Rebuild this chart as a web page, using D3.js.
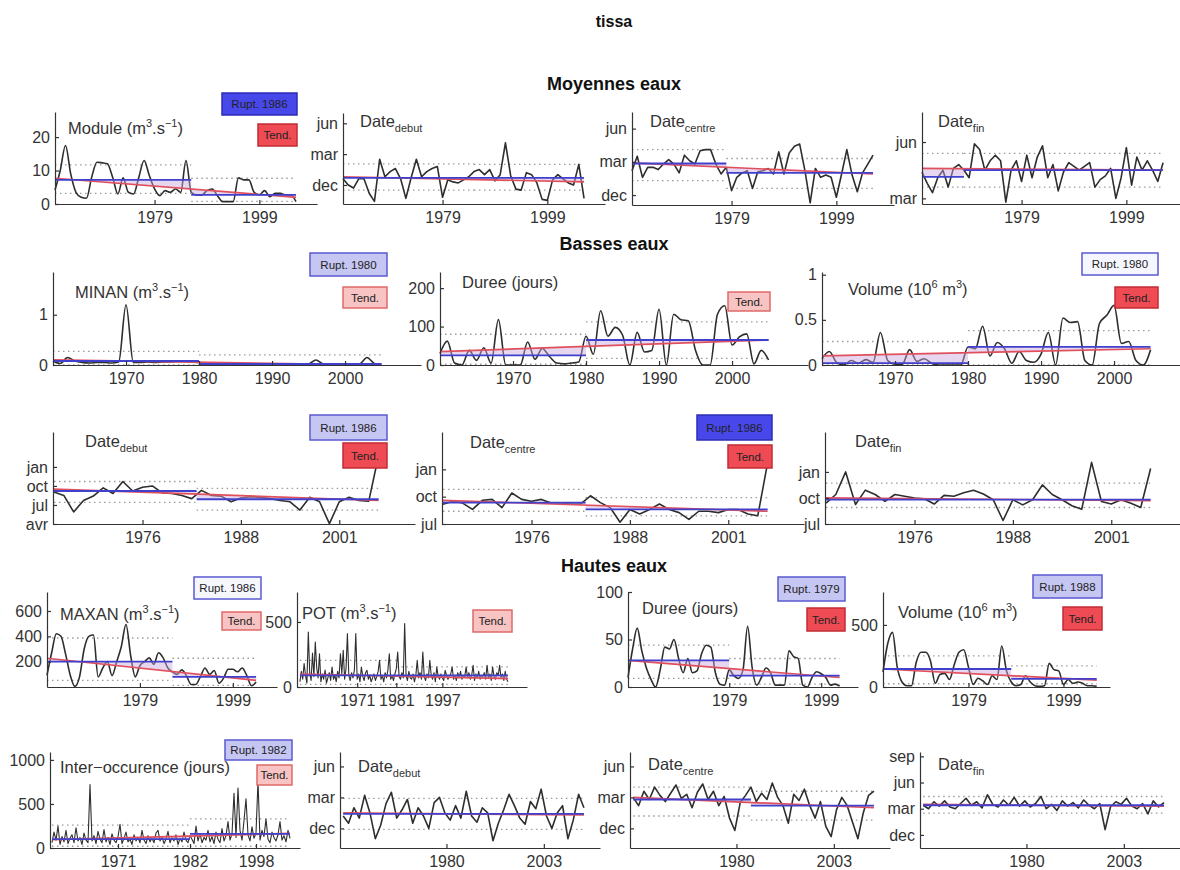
<!DOCTYPE html>
<html><head><meta charset="utf-8">
<script src="https://cdn.jsdelivr.net/npm/d3@7"></script>
<style>
body{margin:0;background:#fff;}
svg{font-family:"Liberation Sans",Arial,Helvetica,sans-serif;}
.tick text{font-size:16px;fill:#333;}
.ptitle{font-size:16.5px;fill:#333;}
.head{font-weight:bold;fill:#111;}
</style></head><body>
<svg id="fig" width="1180" height="870"></svg>
<script>
// ---- Moyennes eaux (annual series from 1960) ----
const moduleVals = [4.2,10,17.5,9,3.5,2,1.7,8,12.5,12.3,12,8,3,7.8,3.5,3,8,13,8.5,4.5,2.5,4,3.5,4.5,3.5,13,3.5,2.7,2.7,4,4.5,2.5,0.7,0.7,0.7,7.8,7.2,7.2,3.5,2.7,4,2.2,3.2,3.2,2.7,2.7,0.7];
const debutMVals = [12.6,12.0,11.7,12.6,12.6,11.2,10.4,14.5,12.8,13.3,13.6,12.6,10.7,12.7,14.5,12.8,13.3,13.6,13.8,10.8,12.5,12.3,12.2,12.5,12.8,13.3,13.5,13.0,13.5,12.4,13.0,16.1,12.9,11.6,11.5,13.2,13.0,12.2,10.6,10.5,12.5,13.0,12.6,12.2,12.0,14.0,10.7];
const centreMVals = [14.2,15.5,13.6,14.5,14.5,14.3,14.8,15.2,14.8,14.0,15.6,15.1,14.8,16.0,16.1,16.1,14.8,13.9,14.5,12.4,13.6,14.0,14.2,12.6,14.1,14.2,14.4,13.9,15.9,13.9,15.8,16.4,16.6,14.2,11.3,14.4,13.6,13.8,13.6,11.8,13.9,16.1,13.8,12.3,14.0,14.8,15.6];
const finMVals = [16.4,15.8,15.3,16.1,16.5,15.6,16.6,16.8,16.5,16.1,17.9,17.6,16.5,17.0,17.3,17.0,14.8,16.5,17.0,15.9,17.3,16.1,17.2,17.8,16.1,16.8,15.4,16.4,16.9,16.7,16.5,16.7,16.9,15.6,16.0,16.2,16.6,15.0,16.1,17.7,15.7,17.2,16.5,17.0,16.5,15.9,16.9];

// ---- Basses eaux ----
const minanVals = [0.08,0.03,0.15,0.08,0.05,0.04,0.05,0.05,0.04,0.06,1.2,0.05,0.05,0.06,0.05,0.06,0.06,0.07,0.07,0.06,0.05,0.02,0.01,0.02,0.01,0.01,0.02,0.01,0.01,0.01,0.02,0.01,0.01,0.01,0.02,0.02,0.1,0.02,0.01,0.01,0.02,0.01,0.02,0.15,0.03,0.0];
const dureeBVals = [30,62,5,0,38,12,45,5,118,0,0,0,60,15,43,22,5,3,5,8,75,28,141,75,98,78,0,85,34,38,145,0,132,118,115,38,0,0,132,154,52,73,81,3,38,13];
const volumeBVals = [0.07,0.15,0.03,0,0.05,0.02,0.06,0.03,0.36,0.05,0.01,0.01,0.17,0.04,0.07,0.02,0,0,0,0,0.2,0.18,0.43,0.1,0.25,0.18,0.02,0.15,0.05,0.03,0.12,0.36,0,0.52,0.47,0.48,0.05,0,0.46,0.55,0.66,0.24,0.26,0.05,0,0.17];
// low-flow dates, one value per event (month number, 13 = january of the next year)
const debutBVals = [9.05,8.5,5.9,7.7,8.4,9.7,8.8,10.7,9.2,9.8,10.0,8.9,8.8,8.5,8.0,9.3,8.5,8.4,7.5,8.1,8.3,8.2,8.0,7.7,7.5,6.2,8.2,7.5,4.05,7.5,8.2,7.7,7.6,14.8];
const centreBVals = [9.16,9.5,9.3,8.6,9.6,9.7,8.8,10.4,9.7,9.5,9.7,9.3,9.3,9.2,9.2,10.1,9.35,8.8,7.2,8.6,8.1,8.6,9.2,8.6,8.25,7.5,8.4,8.4,8.25,8.6,8.6,8.1,7.9,13.7];
const finBVals = [9.4,10.4,13.0,9.25,10.9,10.4,9.6,10.4,10.2,10.0,9.9,9.3,10.3,10.2,10.6,10.9,10.45,9.8,7.4,9.8,9.2,9.8,11.5,10.4,9.8,9.1,8.7,14.1,9.6,9.3,9.8,9.4,8.9,13.4];

// ---- Hautes eaux ----
const maxanVals = [93,270,420,400,260,93,5,80,300,400,410,80,150,200,90,200,320,493,250,80,170,200,230,180,270,230,150,120,100,135,90,20,20,80,150,100,130,30,70,140,140,120,150,90,10,40];
const potVals = [40,120,60,180,90,30,423,110,50,260,80,346,150,70,256,40,100,60,130,30,70,110,50,154,60,90,40,120,70,256,100,282,60,140,410,90,50,110,70,130,410,60,100,40,154,80,50,110,128,60,90,40,70,100,50,80,120,205,60,90,40,110,70,130,256,60,90,50,100,140,269,80,60,110,70,487,90,50,120,70,60,100,40,90,205,70,110,60,269,80,50,100,70,205,90,60,110,40,154,80,60,100,70,50,128,90,60,80,100,154,60,90,50,110,70,120,60,90,80,154,70,110,60,90,167,50,100,70,120,60,90,80,110,60,167,70,100,50,154,80,60,110,90,167,70,100,50,120,60,40];
const dureeHVals = [10,40,62,38,20,8,0,18,42,40,50,30,15,30,15,17,35,44,42,15,3,2,18,12,9,18,64,20,2,10,20,15,2,2,2,38,32,30,2,0,10,16,14,10,2,3,1];
const volumeHVals = [120,350,440,160,40,10,10,200,280,280,210,30,100,110,60,180,280,300,160,20,70,50,20,90,60,330,130,40,10,20,90,40,10,5,10,190,140,130,20,60,30,40,30,10,10,5];
const interVals = [60,180,90,250,40,130,70,200,50,110,150,60,230,80,120,40,170,90,60,720,80,140,50,190,100,60,210,70,120,40,160,90,60,130,270,50,110,180,70,100,40,150,80,120,60,200,90,50,140,70,110,60,170,200,80,130,50,100,190,60,120,80,150,40,110,70,180,90,60,140,100,50,250,80,160,60,120,90,200,70,130,50,180,100,60,220,80,140,300,90,160,620,120,680,200,90,310,560,150,80,240,110,170,760,90,200,130,330,100,60,180,120,80,150,300,90,140,70,200,110];
const debutHVals = [13.2,12.5,14.0,13.0,15.2,13.5,11.0,12.3,14.4,15.5,13.0,13.8,14.8,12.5,14.0,13.2,12.0,14.5,15.0,13.5,12.8,14.2,13.0,15.6,13.2,12.6,14.0,13.5,10.8,12.5,13.8,15.3,14.2,13.0,12.4,14.6,13.9,15.8,13.2,12.0,13.5,14.2,11.0,12.8,15.3,14.0];
const centreHVals = [15.0,14.2,15.6,14.8,16.0,15.2,14.6,15.4,16.2,14.9,15.3,14.0,15.5,16.3,14.8,15.6,14.2,15.1,13.0,11.8,14.5,15.2,16.0,14.6,15.4,14.8,16.4,15.0,14.2,12.5,15.3,14.7,15.8,14.2,13.0,14.6,12.2,11.2,13.8,15.0,14.2,12.6,11.0,13.5,15.2,15.6];
const finHVals = [15.4,15.0,15.8,15.3,15.9,15.2,15.0,15.6,16.2,15.4,15.8,15.1,16.6,15.5,15.2,16.0,15.4,16.3,15.3,15.9,15.2,15.6,16.4,15.0,15.5,14.8,15.9,15.3,15.7,15.1,16.0,15.4,15.0,15.6,12.6,15.2,15.8,15.5,16.2,15.3,15.0,15.6,14.4,15.9,15.2,15.7];

// reference lines: [break position, mean before, mean after, trend start, trend end,
//                   upper before, upper after, lower before, lower after]
const moduleRef  = [1986, 7.2, 2.7, 7.7, 2.0, 11.7, 7.7, 3.2, 0.8];
const debutMRef  = [1985, 12.7, 12.7, 12.8, 12.3, 14.05, 14.0, 11.5, 11.5];
const centreMRef = [1978, 14.85, 14.0, 14.9, 13.9, 16.1, 15.3, 13.3, 12.6];
const finMRef    = [1968, 16.15, 16.5, 16.6, 16.5, 17.4, 17.4, 15.6, 15.6];
const minanRef   = [1980, 0.08, 0.02, 0.1, 0.0, 0.27, 0.2, 0.0, 0.0];
const dureeBRef  = [1980, 25, 65, 35, 65, 80, 112, 2, 17];
const volumeBRef = [1980, 0.02, 0.2, 0.1, 0.18, 0.26, 0.38, 0.0, 0.0];
const debutBRef  = [15.5, 9.2, 7.9, 9.5, 7.7, 10.7, 9.6, 7.4, 6.2];
const centreBRef = [15.5, 9.35, 8.6, 9.6, 8.4, 10.8, 9.9, 8.4, 7.9];
const finBRef    = [15.5, 9.8, 9.8, 10.0, 9.7, 11.7, 11.7, 8.9, 8.9];
const maxanRef   = [1986, 200, 80, 227, 53, 387, 227, 53, 13];
const potRef     = [70, 90, 90, 100, 65, 205, 154, 20, 20];
const dureeHRef  = [1979, 28, 12, 28, 10, 44, 30, 9, 3];
const volumeHRef = [1988, 145, 65, 145, 55, 250, 170, 26, 26];
const interRef   = [70, 100, 160, 95, 165, 260, 330, 20, 20];
const debutHRef  = [23, 13.4, 13.4, 13.5, 13.3, 14.9, 14.9, 11.9, 11.9];
const centreHRef = [23, 14.8, 14.2, 15.0, 14.0, 16.0, 15.6, 13.2, 12.8];
const finHRef    = [23, 15.4, 15.4, 15.5, 15.3, 16.4, 16.4, 14.5, 14.5];

// tick labels
const monthTicksM = [12, 15, 18], monthLabelsM = ["dec", "mar", "jun"];
const monthTicksFin = [15, 18], monthLabelsFin = ["mar", "jun"];
const monthTicksB8 = [4, 7, 10, 13], monthLabelsB8 = ["avr", "jul", "oct", "jan"];
const monthTicksB = [7, 10, 13], monthLabelsB = ["jul", "oct", "jan"];
const monthTicksFinH = [12, 15, 18, 21], monthLabelsFinH = ["dec", "mar", "jun", "sep"];
const yearTicks20 = [1979, 1999];
const yearTicks10 = [1970, 1980, 1990, 2000];
const eventTicksB = [10, 20, 30], eventLabelsB = ["1976", "1988", "2001"];
const potTicks = [42, 70, 103], potLabels = ["1971", "1981", "1997"];
const interTicks = [34, 70, 103], interLabels = ["1971", "1982", "1998"];
const eventTicksH = [20.3, 38.5], eventLabelsH = ["1980", "2003"];

const svg = d3.select("#fig");
const cx = 614;
svg.append("text").attr("class","head").attr("x",cx).attr("y",27).attr("text-anchor","middle").attr("font-size",16).text("tissa");
svg.append("text").attr("class","head").attr("x",cx).attr("y",90).attr("text-anchor","middle").attr("font-size",18).text("Moyennes eaux");
svg.append("text").attr("class","head").attr("x",cx).attr("y",250).attr("text-anchor","middle").attr("font-size",18).text("Basses eaux");
svg.append("text").attr("class","head").attr("x",cx).attr("y",572).attr("text-anchor","middle").attr("font-size",18).text("Hautes eaux");

const numFmt = d => String(d);
const DATE = (sub) => [["Date",""],[sub,"sub"]];
const UNIT_Q = (name) => [[name + " (m",""],["3","sup"],[".s",""],["\u22121","sup"],[")",""]];
const UNIT_V = [["Volume (10",""],["6","sup"],[" m",""],["3","sup"],[")",""]];

const panels = [
  // Moyennes eaux
  {x0:55,x1:317,top:112,bottom:204,xd:[1960,2010],yd:[0,27.5],start:1960,vals:moduleVals,ref:moduleRef,
   yt:[0,10,20],xt:yearTicks20,curve:"smooth",title:UNIT_Q("Module"),tx:68,ty:134,
   boxes:[[222,93,75,22,"Rupt. 1986","rs"],[258,124,39,22,"Tend.","ts"]]},
  {x0:343,x1:605,top:113,bottom:204,xd:[1960,2010],yd:[10.15,19.0],start:1960,vals:debutMVals,ref:debutMRef,
   yt:monthTicksM,yl:monthLabelsM,xt:yearTicks20,title:DATE("debut"),tx:360,ty:127,boxes:[]},
  {x0:632,x1:894,top:112,bottom:205,xd:[1960,2010],yd:[11.1,19.5],start:1960,vals:centreMVals,ref:centreMRef,
   yt:monthTicksM,yl:monthLabelsM,xt:yearTicks20,title:DATE("centre"),tx:650,ty:127,boxes:[]},
  {x0:922,x1:1184,top:112,bottom:204,xd:[1960,2010],yd:[14.7,19.6],start:1960,vals:finMVals,ref:finMRef,
   yt:monthTicksFin,yl:monthLabelsFin,xt:yearTicks20,title:DATE("fin"),tx:938,ty:127,boxes:[]},
  // Basses eaux
  {x0:53,x1:421,top:272,bottom:365,xd:[1960,2010.4],yd:[0,1.85],start:1960,vals:minanVals,ref:minanRef,
   yt:[0,1],xt:yearTicks10,curve:"smooth",title:UNIT_Q("MINAN"),tx:75,ty:298,
   boxes:[[310,253,77,23,"Rupt. 1980","rw"],[343,287,44,21,"Tend.","tw"]]},
  {x0:440,x1:808,top:272,bottom:365,xd:[1960,2010.4],yd:[0,242],start:1960,vals:dureeBVals,ref:dureeBRef,
   yt:[0,100,200],xt:yearTicks10,curve:"smooth",title:[["Duree (jours)",""]],tx:462,ty:288,
   boxes:[[728,292,42,19,"Tend.","tw"]]},
  {x0:822,x1:1190,top:272,bottom:365,xd:[1960,2010.4],yd:[0,1.03],start:1960,vals:volumeBVals,ref:volumeBRef,
   yt:[0,0.5,1],xt:yearTicks10,curve:"smooth",title:UNIT_V,tx:848,ty:295,
   boxes:[[1082,253,76,22,"Rupt. 1980","rv"],[1115,287,43,21,"Tend.","ts"]]},
  {x0:53,x1:415,top:432,bottom:524,xd:[0.9,37.7],yd:[4,18.5],start:1,vals:debutBVals,ref:debutBRef,
   yt:monthTicksB8,yl:monthLabelsB8,xt:eventTicksB,xl:eventLabelsB,title:DATE("debut"),tx:85,ty:447,
   boxes:[[310,415,77,25,"Rupt. 1986","rw"],[343,443,44,25,"Tend.","ts"]]},
  {x0:442,x1:804,top:432,bottom:524,xd:[0.9,37.7],yd:[7,17.1],start:1,vals:centreBVals,ref:centreBRef,
   yt:monthTicksB,yl:monthLabelsB,xt:eventTicksB,xl:eventLabelsB,title:DATE("centre"),tx:470,ty:448,
   boxes:[[697,415,75,25,"Rupt. 1986","rs"],[728,445,44,23,"Tend.","ts"]]},
  {x0:825,x1:1187,top:432,bottom:524,xd:[0.9,37.7],yd:[7,17.6],start:1,vals:finBVals,ref:finBRef,
   yt:monthTicksB,yl:monthLabelsB,xt:eventTicksB,xl:eventLabelsB,title:DATE("fin"),tx:855,ty:447,boxes:[]},
  // Hautes eaux
  {x0:47,x1:277,top:592,bottom:687,xd:[1959,2008.5],yd:[0,750],start:1959,vals:maxanVals,ref:maxanRef,
   yt:[200,400,600],xt:yearTicks20,curve:"smooth",title:UNIT_Q("MAXAN"),tx:60,ty:620,
   boxes:[[194,577,67,22,"Rupt. 1986","rv"],[222,612,39,18,"Tend.","tw"]]},
  {x0:297,x1:527,top:592,bottom:687,xd:[-1.1,163.6],yd:[0,730],start:1,vals:potVals,ref:potRef,
   yt:[0,500],xt:potTicks,xl:potLabels,thin:true,title:UNIT_Q("POT"),tx:302,ty:619,
   boxes:[[473,610,39,22,"Tend.","tw"]]},
  {x0:628,x1:858,top:592,bottom:687,xd:[1957,2007],yd:[0,100],start:1957,vals:dureeHVals,ref:dureeHRef,
   yt:[0,50,100],xt:yearTicks20,curve:"smooth",title:[["Duree (jours)",""]],tx:642,ty:614,
   boxes:[[778,577,67,24,"Rupt. 1979","rw"],[807,608,38,23,"Tend.","ts"]]},
  {x0:883,x1:1110,top:592,bottom:687,xd:[1961,2008.8],yd:[0,765],start:1961,vals:volumeHVals,ref:volumeHRef,
   yt:[0,500],xt:yearTicks20,curve:"smooth",title:UNIT_V,tx:898,ty:618,
   boxes:[[1033,575,69,23,"Rupt. 1988","rw"],[1063,607,39,23,"Tend.","ts"]]},
  {x0:50,x1:300,top:752,bottom:848,xd:[0,125],yd:[0,1090],start:1,vals:interVals,ref:interRef,
   yt:[0,500,1000],xt:interTicks,xl:interLabels,thin:true,title:[["Inter\u2212occurence (jours)",""]],tx:60,ty:773,
   boxes:[[225,740,67,20,"Rupt. 1982","rw"],[257,765,35,20,"Tend.","tw"]]},
  {x0:340,x1:600,top:752,bottom:848,xd:[0.4,49],yd:[10.1,19.4],start:1,vals:debutHVals,ref:debutHRef,
   yt:monthTicksM,yl:monthLabelsM,xt:eventTicksH,xl:eventLabelsH,title:DATE("debut"),tx:358,ty:772,boxes:[]},
  {x0:630,x1:890,top:752,bottom:848,xd:[0.4,49],yd:[10.1,19.4],start:1,vals:centreHVals,ref:centreHRef,
   yt:monthTicksM,yl:monthLabelsM,xt:eventTicksH,xl:eventLabelsH,title:DATE("centre"),tx:648,ty:770,boxes:[]},
  {x0:920,x1:1180,top:752,bottom:848,xd:[0.4,49],yd:[10.5,21.5],start:1,vals:finHVals,ref:finHRef,
   yt:monthTicksFinH,yl:monthLabelsFinH,xt:eventTicksH,xl:eventLabelsH,title:DATE("fin"),tx:938,ty:770,boxes:[]}
];

const boxStyle = {
  rs:{fill:"#4848ea",stroke:"#2c2cb4"},
  rw:{fill:"#c6c6f3",stroke:"#5a5ad2"},
  rv:{fill:"#f6f6ff",stroke:"#5a5ad2"},
  ts:{fill:"#ee4b55",stroke:"#c22c34"},
  tw:{fill:"#f7c3c3",stroke:"#e06a6a"}
};

function addTitle(g, x, y, parts) {
  const t = g.append("text").attr("class","ptitle").attr("x",x).attr("y",y);
  let shift = 0;
  parts.forEach(([s, m]) => {
    const target = m === "sup" ? -7 : m === "sub" ? 5 : 0;
    t.append("tspan").attr("dy", target - shift).attr("font-size", m ? 11 : null).text(s);
    shift = target;
  });
}

panels.forEach(p => {
  const g = svg.append("g");
  const x = d3.scaleLinear().domain(p.xd).range([p.x0, p.x1]);
  const y = d3.scaleLinear().domain(p.yd).range([p.bottom, p.top]);
  const pts = p.vals.map((v, i) => [p.start + i, v]);
  const first = pts[0][0], last = pts[pts.length - 1][0];
  const [rb, m1, m2, t0, t1, u1, u2, l1, l2] = p.ref;
  const trend = xv => t0 + (t1 - t0) * (xv - first) / (last - first);

  // confidence bounds (dotted), before and after the break
  const dotted = [[first, rb, u1], [rb, last, u2], [first, rb, l1], [rb, last, l2]];
  g.selectAll("line.dot").data(dotted).join("line").attr("class","dot")
    .attr("x1", d => x(d[0])).attr("x2", d => x(d[1]))
    .attr("y1", d => y(d[2])).attr("y2", d => y(d[2]))
    .attr("stroke", "#9c9c94").attr("stroke-width", 1.3).attr("stroke-dasharray", "1.5,3.5");

  // data series
  const line = d3.line().x(d => x(d[0])).y(d => y(d[1]))
    .curve(p.curve === "smooth" ? d3.curveMonotoneX : d3.curveLinear);
  g.append("path").datum(pts).attr("d", line).attr("fill", "none")
    .attr("stroke", "#2e2e2e").attr("stroke-width", p.thin ? 1.1 : 1.6).attr("stroke-linejoin","round");

  // band between trend and segment means
  const bx = [first, rb, rb, last];
  const bm = [m1, m1, m2, m2];
  const band = d3.area().x(d => x(d[0])).y0(d => y(d[1])).y1(d => y(d[2]));
  g.append("path").datum(bx.map((v, i) => [v, bm[i], trend(v)])).attr("d", band)
    .attr("fill", "#c7a5dc").attr("opacity", 0.45);

  // trend line
  g.append("line").attr("x1", x(first)).attr("x2", x(last)).attr("y1", y(t0)).attr("y2", y(t1))
    .attr("stroke", "#e0505c").attr("stroke-width", 1.7);
  // segment means
  g.selectAll("line.mean").data([[first, rb, m1], [rb, last, m2]]).join("line").attr("class","mean")
    .attr("x1", d => x(d[0])).attr("x2", d => x(d[1]))
    .attr("y1", d => y(d[2])).attr("y2", d => y(d[2]))
    .attr("stroke", "#4040cc").attr("stroke-width", 1.8);

  // axes
  const ax = d3.axisBottom(x).tickValues(p.xt).tickSizeInner(-4).tickSizeOuter(0).tickPadding(8)
    .tickFormat((d, i) => p.xl ? p.xl[i] : numFmt(d));
  g.append("g").attr("transform", `translate(0,${p.bottom})`).call(ax);
  const ay = d3.axisLeft(y).tickValues(p.yt).tickSizeInner(-4).tickSizeOuter(0).tickPadding(5)
    .tickFormat((d, i) => p.yl ? p.yl[i] : numFmt(d));
  g.append("g").attr("transform", `translate(${p.x0},0)`).call(ay);
  g.selectAll(".domain,.tick line").attr("stroke", "#333").attr("stroke-width", 1.2);

  addTitle(g, p.tx, p.ty, p.title);

  // test result labels
  p.boxes.forEach(([bx0, by0, bw, bh, label, kind]) => {
    g.append("rect").attr("x", bx0).attr("y", by0).attr("width", bw).attr("height", bh)
      .attr("fill", boxStyle[kind].fill).attr("stroke", boxStyle[kind].stroke).attr("stroke-width", 1.5);
    g.append("text").attr("x", bx0 + bw / 2).attr("y", by0 + bh / 2 + 4).attr("text-anchor", "middle")
      .attr("font-size", 11.5).attr("fill", "#222").text(label);
  });
});
</script></body></html>
